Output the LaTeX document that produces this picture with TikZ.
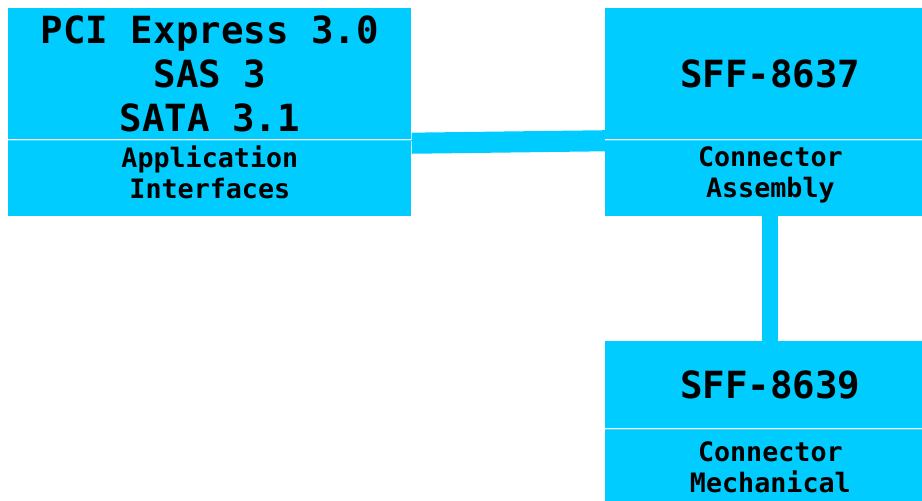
\documentclass[tikz,border=0pt]{standalone}
\usepackage{fontspec}
\newfontfamily\monobold{DejaVu Sans Mono}[BoldFont=* Bold]
\definecolor{boxblue}{HTML}{00CCFF}

\begin{document}
\begin{tikzpicture}[x=0.02cm, y=-0.02cm]
    \tikzset{
        partbox/.style={rectangle, fill=boxblue, anchor=north west, inner sep=0pt, align=center},
        bigtext/.style={font=\monobold\bfseries\fontsize{21.3}{25}\selectfont},
        smalltext/.style={font=\monobold\bfseries\fontsize{15.2}{17.6}\selectfont, text depth=6.5pt},
        seprule/.style={boxblue!75!white, very thin},
        linkbar/.style={boxblue, line width=12pt},
        linkpost/.style={boxblue, line width=9.1pt}
    }
    \useasboundingbox (0,0) rectangle (922,500);

    % --- 1. APPLICATION ---
    \node[partbox, bigtext, minimum width=403*0.02cm, minimum height=131*0.02cm] (appTop) at (8,8)
        {PCI Express 3.0\\SAS 3\\SATA 3.1};
    \node[partbox, smalltext, minimum width=403*0.02cm, minimum height=76*0.02cm] (appBot) at (appTop.south west)
        {Application\\Interfaces};
    \draw[seprule] (appTop.south west) -- (appTop.south east);

    % --- 2. CONNECTOR ASSEMBLY ---
    \node[partbox, bigtext, minimum width=330*0.02cm, minimum height=131*0.02cm] (asmTop) at (605,8)
        {SFF-8637};
    \node[partbox, smalltext, minimum width=330*0.02cm, minimum height=76*0.02cm] (asmBot) at (asmTop.south west)
        {Connector\\Assembly};
    \draw[seprule] (asmTop.south west) -- (asmTop.south east);

    % --- 3. CONNECTOR MECHANICAL ---
    \node[partbox, bigtext, minimum width=330*0.02cm, minimum height=87*0.02cm] (mechTop) at (605,341)
        {SFF-8639};
    \node[partbox, smalltext, minimum width=330*0.02cm, minimum height=88*0.02cm] (mechBot) at (mechTop.south west)
        {Connector\\Mechanical};
    \draw[seprule] (mechTop.south west) -- (mechTop.south east);

    % Liaisons
    \draw[linkbar] ([yshift=-2pt]appTop.south east) -- ([yshift=-0.6pt]asmTop.south west);
    \draw[linkpost] (asmBot.south) -- (mechTop.north);

\end{tikzpicture}
\end{document}
